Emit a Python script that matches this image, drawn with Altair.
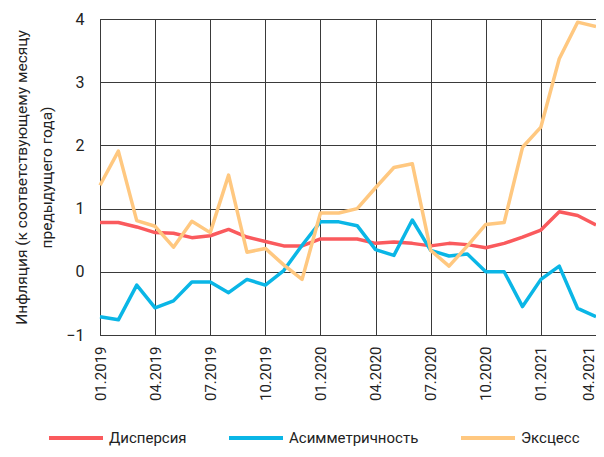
import altair as alt
import pandas as pd

months = ["01.2019","02.2019","03.2019","04.2019","05.2019","06.2019","07.2019","08.2019","09.2019",
          "10.2019","11.2019","12.2019","01.2020","02.2020","03.2020","04.2020","05.2020","06.2020",
          "07.2020","08.2020","09.2020","10.2020","11.2020","12.2020","01.2021","02.2021","03.2021","04.2021"]

dispersion = [0.78,0.78,0.71,0.62,0.61,0.54,0.57,0.67,0.55,0.48,0.41,0.41,0.52,0.52,
              0.52,0.45,0.47,0.45,0.41,0.45,0.43,0.38,0.45,0.55,0.66,0.95,0.89,0.74]
asymmetry = [-0.71,-0.76,-0.21,-0.57,-0.46,-0.16,-0.16,-0.33,-0.12,-0.21,0.02,0.42,0.79,0.79,
             0.73,0.35,0.26,0.82,0.34,0.25,0.28,0.0,0.0,-0.55,-0.12,0.09,-0.58,-0.71]
excess = [1.37,1.91,0.81,0.72,0.39,0.80,0.62,1.53,0.31,0.37,0.11,-0.12,0.93,0.93,
          1.0,1.33,1.65,1.71,0.34,0.09,0.41,0.75,0.78,1.97,2.29,3.37,3.95,3.88]

series_names = ["Дисперсия", "Асимметричность", "Эксцесс"]
series_colors = ["#FA5A5D", "#0AB6E6", "#FFC880"]

rows = []
for name, vals in zip(series_names, [dispersion, asymmetry, excess]):
    for m, v in zip(months, vals):
        rows.append({"month": m, "value": v, "series": name})
df = pd.DataFrame(rows)

tick_months = months[::3]
last_tick = tick_months[-1]
FONT = "Roboto"

chart = alt.Chart(df).mark_line(strokeWidth=3.5, strokeJoin="round").encode(
    x=alt.X("month:O", sort=months,
            scale=alt.Scale(type="point", padding=0),
            axis=alt.Axis(values=tick_months, labelAngle=270, title=None,
                          labelBaseline={"condition": {"test": f"datum.value == '{last_tick}'",
                                                       "value": "bottom"},
                                         "value": "middle"},
                          grid=True, gridColor="#3a3a3a", gridWidth=1,
                          domainColor="#3a3a3a", tickSize=0, labelPadding=11,
                          labelFontSize=15, labelColor="#222", labelFont=FONT)),
    y=alt.Y("value:Q", scale=alt.Scale(domain=[-1, 4], nice=False),
            axis=alt.Axis(values=[-1, 0, 1, 2, 3, 4], format="d",
                          title=["Инфляция (к соответствующему месяцу", "предыдущего года)"],
                          titleFontSize=15.5, titleFontWeight="normal", titleFont=FONT,
                          titleColor="#222", titlePadding=11, titleLineHeight=25,
                          grid=True, gridColor="#3a3a3a", gridWidth=1,
                          domainColor="#3a3a3a", tickSize=0, labelPadding=16,
                          labelFontSize=16, labelColor="#222", labelFont=FONT)),
    color=alt.Color("series:N", sort=series_names,
                    scale=alt.Scale(domain=series_names, range=series_colors),
                    legend=alt.Legend(title=None, orient="none", direction="horizontal",
                                      legendX=-53, legendY=390,
                                      symbolType="stroke", symbolStrokeWidth=4,
                                      symbolSize=2916, labelFontSize=15, labelFont=FONT,
                                      labelOffset=4, labelColor="#222", columnPadding=34)),
).properties(
    width=496, height=316,
    autosize=alt.AutoSizeParams(type="none"),
    padding={"left": 92, "top": 11, "right": 0, "bottom": 114},
).configure_view(stroke="#3a3a3a", strokeWidth=1)

chart.save("out.html", embed_options={"renderer": "svg", "actions": False})
